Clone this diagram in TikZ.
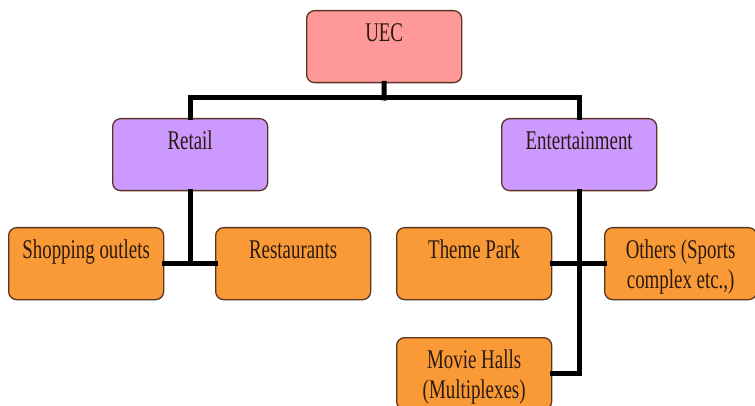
\documentclass[tikz,border=0pt]{standalone}
\usepackage{fontspec}
\setmainfont{Liberation Serif}[FakeStretch=0.70]
\usetikzlibrary{positioning}
\definecolor{uecInk}{HTML}{2A1A12}
\definecolor{uecEdge}{HTML}{5A3524}
\definecolor{uecPink}{HTML}{FF9999}
\definecolor{uecPurple}{HTML}{CC99FF}
\definecolor{uecOrange}{HTML}{F99A37}
\tikzset{
  every picture/.style={font=\fontsize{27}{30}\selectfont, text=uecInk},
  uec box/.style={draw=uecEdge, line width=1.3pt, rounded corners=8pt,
    anchor=north west, align=center, minimum width=155pt, minimum height=72pt,
    inner ysep=0pt, inner xsep=2pt, text height=31pt, text depth=41pt},
  uec two/.style={text height=61pt, text depth=11pt},
  uec link/.style={draw=black, line width=5pt, line cap=rect}
}
\begin{document}
\begin{tikzpicture}[x=1pt,y=-1pt]
  \useasboundingbox (0,0) rectangle (755,406);
  \coordinate (bus) at (384,98);
  % boxes
  \node[uec box, fill=uecPink] (uec) at (306,10) {UEC};
  \node[uec box, fill=uecPurple] (retail) at (112,118) {Retail};
  \node[uec box, fill=uecPurple] (ent) at (501,118) {Entertainment};
  \node[uec box, fill=uecOrange] (shop) at (8,227) {Shopping outlets};
  \node[uec box, fill=uecOrange] (rest) at (215,227) {Restaurants};
  \node[uec box, fill=uecOrange] (theme) at (396,227) {Theme Park};
  \node[uec box, uec two, fill=uecOrange, minimum width=152pt] (others) at (604,227) {Others (Sports\\complex etc.,)};
  \node[uec box, uec two, fill=uecOrange] (movie) at (396,337) {Movie Halls\\(Multiplexes)};
  % links
  \draw[uec link] (uec.south) -- (bus);
  \draw[uec link] (retail.north) |- (bus) -| (ent.north);
  \draw[uec link] (retail.south) -- (retail.south |- shop.east);
  \draw[uec link] (shop.east) -- (rest.west);
  \draw[uec link] (ent.south) |- (movie.east);
  \draw[uec link] (theme.east) -- (others.west);
\end{tikzpicture}
\end{document}
